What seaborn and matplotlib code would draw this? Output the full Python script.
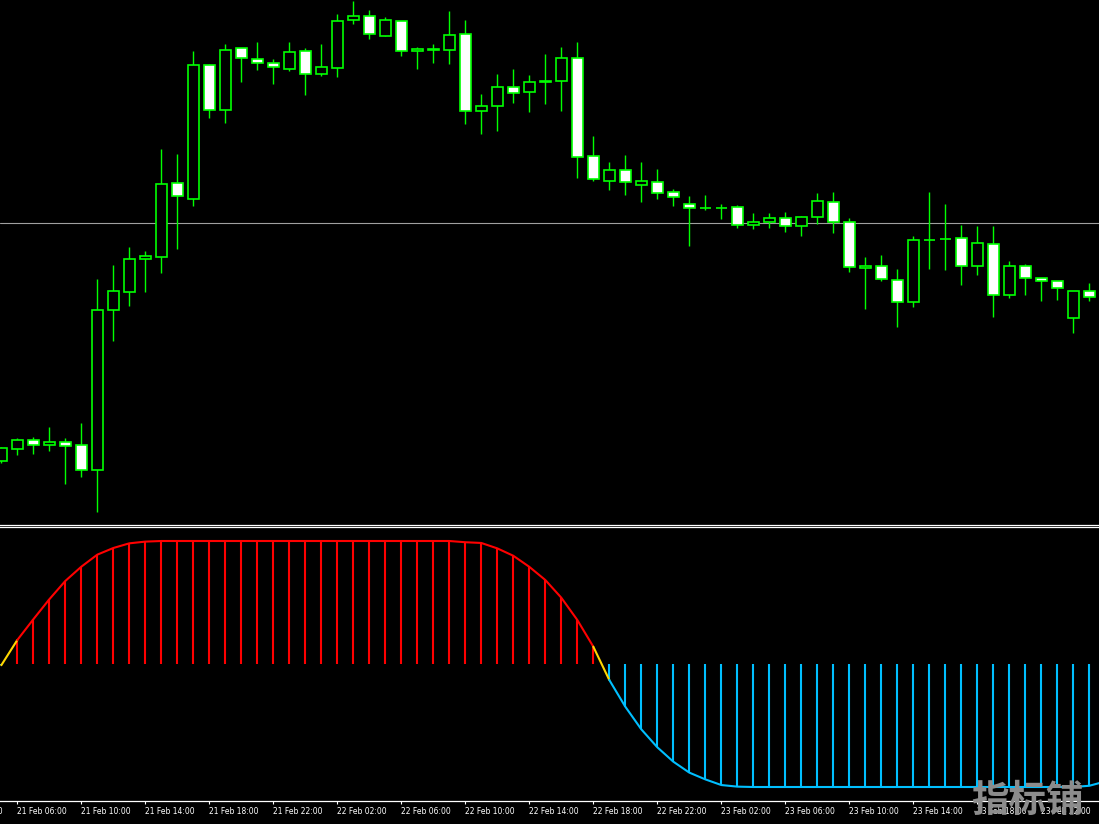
import matplotlib
matplotlib.use("Agg")
import matplotlib.pyplot as plt
import matplotlib.transforms as mtransforms
from matplotlib import font_manager as fm
import seaborn as sns
import numpy as np
import pandas as pd

# ---------------- data (prices in chart points) ----------------
open_ = [539.3, 551.3, 559.7, 555.3, 557.7, 554.7, 530.3, 690.3, 708.3, 740.7,
         743.3, 816.7, 801.3, 934.7, 889.7, 951.7, 940.7, 936.7, 931.3, 948.7,
         925.7, 931.7, 979.7, 983.7, 963.7, 978.7, 948.7, 949.7, 949.7, 965.7,
         888.7, 893.7, 912.7, 907.7, 917.7, 918.7, 941.7, 843.7, 819.3, 829.7,
         814.7, 817.7, 807.7, 795.7, 791.7, 791.7, 792.7, 774.7, 777.7, 781.7,
         773.7, 782.7, 797.7, 777.7, 731.7, 733.7, 719.7, 697.7, 760.3, 761.3,
         761.7, 733.7, 755.7, 704.7, 733.7, 721.7, 718.7, 681.7, 708.7]
high = [553.3, 562, 563, 573, 562, 577, 721, 735, 753, 749,
        851, 846, 949, 935.7, 956, 951.7, 958, 941, 958, 951.7,
        956, 986, 999, 990, 983, 978.7, 952.7, 956, 989, 980,
        906, 926, 931, 925, 946, 953, 958, 864, 838, 845,
        838, 831, 811, 804, 805, 796, 794.7, 787, 787, 788,
        783.7, 807, 808, 781.7, 742.7, 744.7, 730.7, 763.7, 808, 796,
        775, 774, 774, 738.7, 735.7, 721.7, 718.7, 708.7, 716.7]
low = [537.3, 545, 546.3, 549, 516, 523.3, 488.3, 659.3, 694.3, 708.3,
       727.3, 750.7, 794.3, 882.3, 877.3, 918.3, 930.3, 916.3, 929.3, 905.3,
       924.3, 923.3, 976.3, 961.3, 963.7, 944.3, 931.3, 937.3, 936.3, 876.3,
       866.3, 869.3, 897.3, 888.3, 896.3, 889.3, 822.3, 819, 810.3, 805.3,
       798.3, 801.3, 794.3, 754.3, 790.3, 781.3, 771.7, 770.7, 771.7, 767.7,
       763.7, 775.7, 766.7, 727.7, 691.3, 718.7, 672.7, 693.3, 731.3, 730.3,
       715.3, 725.3, 683.3, 702.3, 705.3, 699.3, 700.3, 667.3, 699.3]
close = [551.7, 559.7, 555.3, 557.7, 554.3, 530.3, 689.7, 708.7, 740.7, 743.7,
         815.7, 803.7, 934.7, 889.7, 949.7, 941.7, 936.7, 932.7, 947.7, 925.7,
         932.7, 978.7, 983.7, 965.7, 979.7, 948.7, 950.7, 950.7, 964.7, 888.7,
         893.7, 912.7, 906.7, 917.7, 918.7, 941.7, 842.7, 820.7, 829.7, 817.7,
         818.7, 806.7, 802.7, 791.7, 791.7, 791.7, 774.7, 777.7, 781.7, 773.7,
         782.7, 798.7, 777.7, 732.7, 733.7, 720.7, 697.7, 759.7, 760.3, 761.3,
         733.7, 756.7, 704.7, 733.7, 721.7, 718.7, 711.7, 708.7, 702.7]
level_price = 776.7

osc = [-0.01, 0.195, 0.363, 0.526, 0.675, 0.791, 0.889, 0.943, 0.981, 0.995,
       1.0, 1.0, 1.0, 1.0, 1.0, 1.0, 1.0, 1.0, 1.0, 1.0,
       1.0, 1.0, 1.0, 1.0, 1.0, 1.0, 1.0, 1.0, 1.0, 0.99,
       0.984, 0.94, 0.88, 0.79, 0.683, 0.539, 0.358, 0.141, -0.13, -0.347,
       -0.531, -0.677, -0.794, -0.883, -0.938, -0.984, -0.997, -1.0, -1.0, -1.0,
       -1.0, -1.0, -1.0, -1.0, -1.0, -1.0, -1.0, -1.0, -1.0, -1.0,
       -1.0, -1.0, -1.0, -1.0, -1.0, -1.0, -1.0, -1.0, -0.99, -0.955]

tick_pos = [1, 5, 9, 13, 17, 21, 25, 29, 33, 37, 41, 45, 49, 53, 57, 61, 65]
tick_labels = ["21 Feb 06:00", "21 Feb 10:00", "21 Feb 14:00", "21 Feb 18:00",
               "21 Feb 22:00", "22 Feb 02:00", "22 Feb 06:00", "22 Feb 10:00",
               "22 Feb 14:00", "22 Feb 18:00", "22 Feb 22:00", "23 Feb 02:00",
               "23 Feb 06:00", "23 Feb 10:00", "23 Feb 14:00", "23 Feb 18:00",
               "23 Feb 22:00"]
prev_tick_pos = -3
prev_tick_label = "21 Feb 02:00"
watermark = "指标铺"

# ---------------- style ----------------
sns.set_theme(style="dark", rc={"axes.facecolor": "black", "figure.facecolor": "black",
                                "axes.grid": False, "axes.edgecolor": "white"})
plt.rcParams['font.family'] = ['DejaVu Sans']

names = {f.name for f in fm.fontManager.ttflist}
if "Liberation Sans Narrow" in names:
    lab_font, lab_size = "Liberation Sans Narrow", 7.0
else:
    lab_font, lab_size = "DejaVu Sans", 5.5

LIME = "#00ff00"
RED = "#ff0000"
BLUE = "#00bfff"
YEL = "#ffd700"

W, H = 1099, 824
fig = plt.figure(figsize=(W / 100, H / 100), dpi=100)
main_bot = 524.5
ind_top, ind_bot = 526.5, 800.5
ax = fig.add_axes([0, 1 - main_bot / H, 1, main_bot / H])
ax2 = fig.add_axes([0, 1 - ind_bot / H, 1, (ind_bot - ind_top) / H])

xlim = (-1.3 / 16, (W - 1.3) / 16)

# ---------------- candles ----------------
o = np.array(open_); c = np.array(close); hi = np.array(high); lo = np.array(low)
idx = np.arange(len(o))
ax.vlines(idx, lo, hi, color=LIME, lw=1.0, zorder=2)
face = ["white" if cc < oo else "black" for oo, cc in zip(o, c)]
ax.bar(idx, np.abs(c - o), bottom=np.minimum(o, c), width=0.66, color=face,
       edgecolor=LIME, linewidth=1.2, zorder=3)
ax.axhline(level_price, color="#a0a0a0", lw=0.8, zorder=1)
ax.set_xlim(*xlim)
ax.set_ylim(1000 - main_bot, 1000)
ax.set_xticks([]); ax.set_yticks([])
for s in ["top", "left", "right"]:
    ax.spines[s].set_visible(False)
ax.spines["bottom"].set_color("white"); ax.spines["bottom"].set_linewidth(0.9)

# ---------------- indicator ----------------
v = np.array(osc)
vx = np.arange(len(v))
bar_cols = [RED if val > 0 else BLUE for val in v]
ax2.vlines(vx, 0, v, colors=bar_cols, lw=1.5, zorder=2)

pos = v > 0
start = 0
segs = []
for k in range(1, len(v)):
    if pos[k] != pos[k - 1]:
        segs.append((start, k - 1, RED if pos[k - 1] else BLUE))
        segs.append((k - 1, k, YEL))
        start = k
segs.append((start, len(v) - 1, RED if pos[-1] else BLUE))
for a, b, col in segs:
    if b > a:
        sns.lineplot(x=vx[a:b + 1], y=v[a:b + 1], color=col, linewidth=1.5,
                     ax=ax2, legend=False, zorder=3)

ax2.set_xlim(*xlim)
ax2.set_ylim((664 - ind_bot) / 123, (664 - ind_top) / 123)
ax2.set_xlabel(""); ax2.set_ylabel("")
ax2.set_yticks([])
for s in ["left", "right"]:
    ax2.spines[s].set_visible(False)
for s in ["top", "bottom"]:
    ax2.spines[s].set_color("white"); ax2.spines[s].set_linewidth(0.9)
ax2.set_xticks(tick_pos)
ax2.set_xticklabels(tick_labels, ha="left", fontfamily=lab_font, fontsize=lab_size,
                    color="white")
ax2.tick_params(axis="x", direction="out", length=2.5, width=0.8, color="white",
                pad=2.5, bottom=True)
trans = mtransforms.offset_copy(ax2.get_xaxis_transform(), fig=fig, x=0, y=-5.0,
                                units="points")
ax2.text(prev_tick_pos, 0, prev_tick_label, transform=trans, ha="left", va="top",
         fontfamily=lab_font, fontsize=lab_size, color="white", clip_on=False)

# watermark
fig.text(1027 / W, 1 - 800 / H, watermark, ha="center", va="center",
         fontfamily=["Noto Sans CJK SC", "DejaVu Sans"], fontweight="bold",
         fontsize=27, color="#8c8c8c", zorder=10)

fig.savefig("out.png", dpi=100, facecolor="black")
